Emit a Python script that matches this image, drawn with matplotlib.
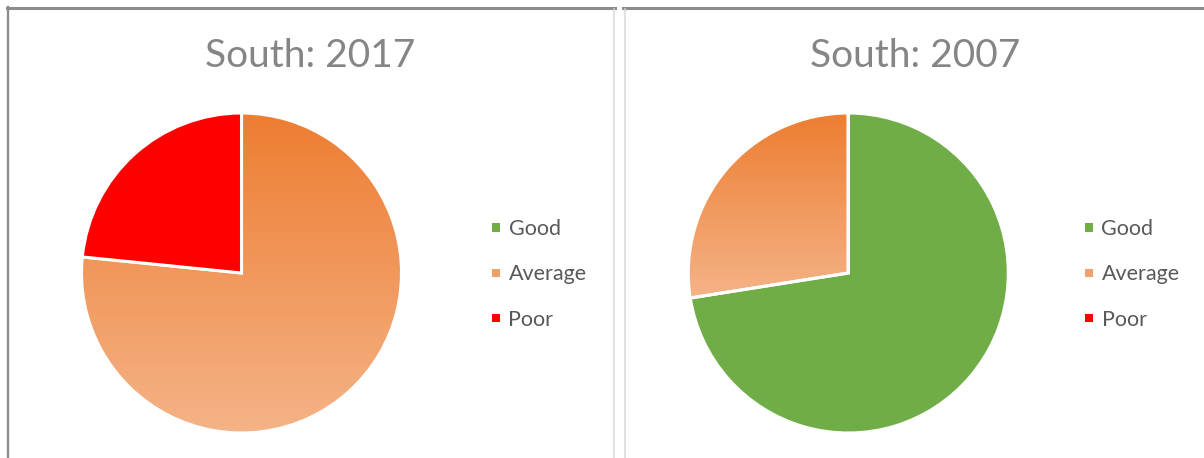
import numpy as np
import matplotlib.pyplot as plt
from matplotlib.colors import LinearSegmentedColormap
from matplotlib.patches import Rectangle
from matplotlib.lines import Line2D

#%% data
categories = ['Good', 'Average', 'Poor']
south_2017 = [0, 76.6, 23.4]
south_2007 = [72.5, 27.5, 0]
titles = ['South: 2017', 'South: 2007']
colors = ['#70AD47', '#F2A06A', '#FF0000']
# gradient for the Average slice (bottom -> top)
grad = LinearSegmentedColormap.from_list('avg', ['#F5B387', '#ED7D31'])

W, H = 1204, 458
fig = plt.figure(figsize=(W / 100, H / 100), dpi=100)


def px_axes(x0, y0, w, h):
    # position given in image pixels, top-left origin
    return fig.add_axes([x0 / W, 1 - (y0 + h) / H, w / W, h / H])


def fig_line(xs, ys, color, lw):
    fig.add_artist(Line2D(np.array(xs) / W, 1 - np.array(ys) / H,
                          transform=fig.transFigure, color=color, lw=lw))


def draw_pie(ax, values):
    wedges, _ = ax.pie(values, colors=colors, startangle=90, counterclock=False,
                       wedgeprops=dict(edgecolor='white', linewidth=2.2))
    for w in wedges:
        w.set_clip_on(False)
    avg = wedges[1]
    bb = avg.get_path().get_extents()
    img = ax.imshow(np.linspace(0, 1, 256).reshape(-1, 1), cmap=grad,
                    extent=[bb.x0, bb.x1, bb.y0, bb.y1], origin='lower',
                    aspect='auto', interpolation='bilinear', zorder=0.9)
    img.set_clip_path(avg)
    avg.set_facecolor('none')
    ax.set_xlim(-1, 1)
    ax.set_ylim(-1, 1)
    ax.set_aspect('equal')
    ax.axis('off')


#%% chart frames
fig_line([7, 615], [7.5, 7.5], '#8C8C8C', 2.2)
fig_line([623, 1204], [7.5, 7.5], '#8C8C8C', 2.2)
fig_line([7.8, 7.8], [7, 458], '#8C8C8C', 1.7)
fig_line([614, 614], [9, 458], '#D9D9D9', 1.1)
fig_line([624.7, 624.7], [9, 458], '#D9D9D9', 1.1)

#%% pies
panels = [(south_2017, 241.5, 310, 491.5), (south_2007, 848.3, 915, 1084.5)]
legend_y = [227.5, 273, 318]
for (vals, cx, tx, lx), title in zip(panels, titles):
    ax = px_axes(cx - 160, 113, 320, 320)
    draw_pie(ax, vals)
    fig.text(tx / W, 1 - 67 / H, title, ha='center', va='baseline',
             fontsize=28, color='#858585', family='Lato')
    for cat, col, yc in zip(categories, colors, legend_y):
        fig.add_artist(Rectangle((lx / W, 1 - (yc + 4) / H), 8 / W, 8 / H,
                                 transform=fig.transFigure, color=col, lw=0))
        fig.text((lx + 17) / W, 1 - (yc + 7.5) / H, cat, ha='left', va='baseline',
                 fontsize=15.5, color='#595959', family='Lato')

fig.savefig('out.png', dpi=100)
